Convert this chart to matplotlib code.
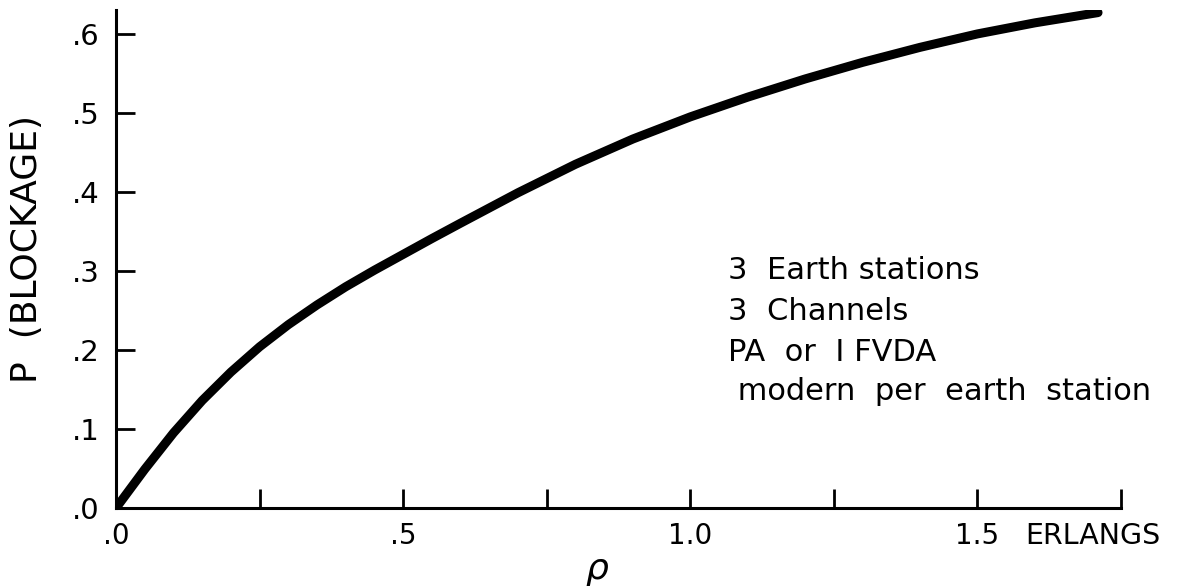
import matplotlib
matplotlib.use("Agg")
import matplotlib.pyplot as plt
from matplotlib.ticker import FixedLocator, NullFormatter
import matplotlib.transforms as mtransforms

# Offered traffic (Erlangs) and blocking probability
rho = [0.0, 0.05, 0.10, 0.15, 0.20, 0.25, 0.30, 0.35, 0.40, 0.45, 0.50,
       0.55, 0.60, 0.70, 0.80, 0.90, 1.00, 1.10, 1.20, 1.30, 1.40, 1.50,
       1.60, 1.71]
p_block = [0.0, 0.049, 0.095, 0.136, 0.172, 0.204, 0.232, 0.257, 0.280, 0.301,
           0.321, 0.341, 0.3605, 0.399, 0.435, 0.467, 0.495, 0.520, 0.543,
           0.564, 0.583, 0.600, 0.614, 0.627]

major_x = [0.0, 0.5, 1.0, 1.5]
major_x_labels = [".0", ".5", "1.0", "1.5"]
minor_x = [0.25, 0.75, 1.25, 1.75]
y_ticks = [0.0, 0.1, 0.2, 0.3, 0.4, 0.5, 0.6]
y_tick_labels = [".0", ".1", ".2", ".3", ".4", ".5", ".6"]

notes = ["3  Earth stations", "3  Channels", "PA  or  I FVDA", " modern  per  earth  station"]
note_y = [0.301, 0.249, 0.197, 0.148]

plt.rcParams["font.family"] = ["DejaVu Sans"]

fig = plt.figure(figsize=(11.84, 5.87), dpi=100)
ax = fig.add_axes([0.098, 0.1346, 0.8488, 0.848])

ax.plot(rho, p_block, color="black", lw=6.5, solid_capstyle="round",
        solid_joinstyle="round")

ax.set_xlim(0, 1.75)
ax.set_ylim(0, 0.630)

for side in ("top", "right"):
    ax.spines[side].set_visible(False)
for side in ("left", "bottom"):
    ax.spines[side].set_linewidth(2.2)

ax.xaxis.set_major_locator(FixedLocator(major_x))
ax.set_xticklabels(major_x_labels)
ax.xaxis.set_minor_locator(FixedLocator(minor_x))
ax.xaxis.set_minor_formatter(NullFormatter())
ax.set_yticks(y_ticks)
ax.set_yticklabels(y_tick_labels)

xpad = 10
ax.tick_params(axis="both", which="both", direction="in", width=2.0,
               length=14, labelsize=20)
ax.tick_params(axis="y", labelsize=21)
ax.tick_params(axis="x", which="both", pad=xpad)
ax.tick_params(axis="y", pad=12)

ax.set_ylabel("P  (BLOCKAGE)", fontsize=26)
ax.yaxis.set_label_coords(-0.072, 0.52)

# unit label beside the last numbered x tick, aligned with the tick labels
base = mtransforms.blended_transform_factory(ax.transData, ax.transAxes)
shift = mtransforms.ScaledTranslation(0, -xpad / 72, fig.dpi_scale_trans)
ax.text(1.584, 0.0, "ERLANGS", transform=base + shift, ha="left", va="top",
        fontsize=20.5)

# axis variable
ax.text(0.838, -0.092, r"$\rho$", transform=base, ha="center", va="top",
        fontsize=26)

for txt, yv in zip(notes, note_y):
    ax.text(1.066, yv, txt, ha="left", va="center", fontsize=22)

fig.savefig("out.png", dpi=100, facecolor="white")
